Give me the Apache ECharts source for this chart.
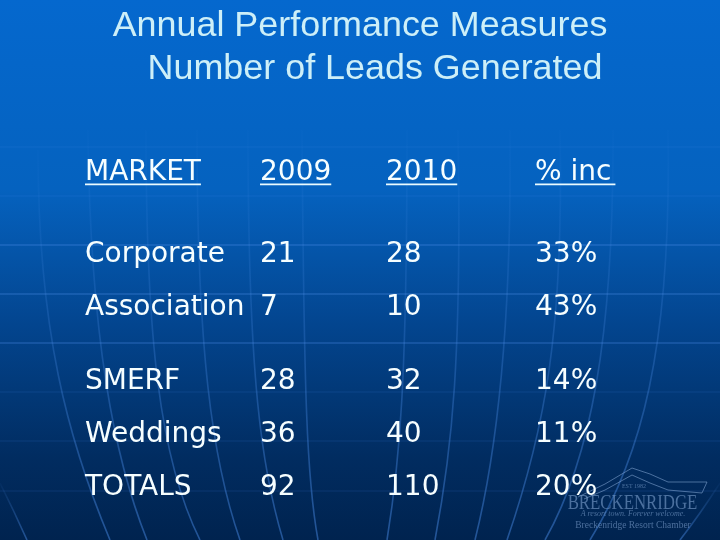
<!DOCTYPE html>
<html><head><meta charset="utf-8">
<style>html,body{margin:0;padding:0;background:#003a7c}#c{width:720px;height:540px}</style>
<script src="https://cdn.jsdelivr.net/npm/echarts@6/dist/echarts.min.js"></script></head>
<body><div id="c"></div>
<script>
const titleLines = ['Annual Performance Measures', 'Number of Leads Generated'];
const headers = ['MARKET', '2009', '2010', '% inc'];
const markets = ['Corporate', 'Association', 'SMERF', 'Weddings', 'TOTALS'];
const leads2009 = [21, 7, 28, 36, 92];
const leads2010 = [28, 10, 32, 40, 110];
const pctInc = ['33%', '43%', '14%', '11%', '20%'];
const columnX = [85, 260, 386, 535];
const rowY = [173, 255, 308, 382, 435, 488];
const brightGridY = [245, 294, 343];
const faintGridY = [147, 196, 392, 441, 491];
const meridians = [
  [[0,483],[10,503],[18,520],[27,540]],
  [[38,150],[38,330],[68,440],[110,540]],
  [[88,130],[90,340],[115,460],[147,540]],
  [[146,130],[146,340],[160,460],[200,540]],
  [[197,130],[197,350],[212,460],[240,540]],
  [[248,130],[248,380],[262,470],[283,540]],
  [[302,130],[304,400],[307,480],[318,540]],
  [[407,130],[407,380],[400,460],[387,540]],
  [[458,130],[462,360],[452,450],[435,540]],
  [[510,130],[512,340],[495,460],[475,540]],
  [[560,130],[564,330],[545,430],[507,540]],
  [[613,130],[614,340],[590,460],[545,540]],
  [[668,130],[672,350],[640,460],[590,540]],
  [[720,483],[706,505],[694,522],[680,540]]
];

const rows = [headers].concat(markets.map((m, i) => [m, leads2009[i], leads2010[i], pctInc[i]]));
const cells = [];
rows.forEach((r, ri) => r.forEach((v, ci) => cells.push({
  value: [columnX[ci], rowY[ri]], text: String(v)
})));

const FONT_SIZE = 28;
const measure = document.createElement('canvas').getContext('2d');
measure.font = FONT_SIZE + 'px "DejaVu Sans"';

const deco = [];
const hline = (y, a) => deco.push({type:'line', silent:true, shape:{x1:0,y1:y,x2:720,y2:y},
  style:{stroke:'rgba(80,145,235,'+a+')', lineWidth:1}});
brightGridY.forEach(y => hline(y, 0.5));
faintGridY.forEach(y => hline(y, 0.16));
meridians.forEach(m => deco.push({type:'bezierCurve', silent:true,
  shape:{x1:m[0][0],y1:m[0][1],cpx1:m[1][0],cpy1:m[1][1],cpx2:m[2][0],cpy2:m[2][1],x2:m[3][0],y2:m[3][1]},
  style:{stroke:{type:'linear',x:0,y:0,x2:0,y2:1,colorStops:[{offset:0,color:'rgba(80,145,235,0.02)'},{offset:0.4,color:'rgba(80,145,235,0.2)'},{offset:1,color:'rgba(70,135,225,0.5)'}]}, fill:'none', lineWidth:1.6}}));

// faint chamber logo
const logoCol = 'rgba(125,160,205,0.6)';
deco.push({type:'polyline', silent:true, shape:{points:[[578,497],[605,484],[632,468],[650,474],[668,482],[707,482],[702,493],[668,490],[650,483],[632,475],[605,490],[584,499]]}, style:{stroke:logoCol, fill:'none', lineWidth:1}});
deco.push({type:'text', silent:true, x:632.5, y:503, scaleX:0.8, style:{x:0,y:0,text:'BRECKENRIDGE',align:'center',verticalAlign:'middle',font:'21px "Liberation Serif"',fill:logoCol}});
deco.push({type:'text', silent:true, style:{x:634,y:486,text:'EST 1982',align:'center',verticalAlign:'middle',font:'6px "Liberation Serif"',fill:logoCol}});
deco.push({type:'text', silent:true, style:{x:633,y:514,text:'A resort town. Forever welcome.',align:'center',verticalAlign:'middle',font:'italic 8px "Liberation Serif"',fill:logoCol}});
deco.push({type:'text', silent:true, style:{x:633,y:525,text:'Breckenridge Resort Chamber',align:'center',verticalAlign:'middle',font:'9.5px "Liberation Serif"',fill:logoCol}});

titleLines.forEach((t, i) => deco.push({type:'text', silent:true, z:5,
  style:{x:[360,375][i], y:[26,69][i], text:t, align:'center', verticalAlign:'middle',
    font:'35.9px "Liberation Sans"', fill:'#cdeff8'}}));

// header underlines follow the text width
headers.forEach((h, i) => deco.push({type:'rect', silent:true, z:5,
  shape:{x:columnX[i], y:183.5, width:measure.measureText(h).width + (i === 3 ? 4 : 0), height:1.8},
  style:{fill:'#eafbff'}}));

const chart = echarts.init(document.getElementById('c'), null, {renderer:'canvas'});
chart.setOption({
  animation:false,
  backgroundColor:{type:'linear',x:0,y:0,x2:0,y2:1,colorStops:[
    {offset:0,color:'#0568ce'},{offset:0.35,color:'#0562bf'},{offset:0.6,color:'#03458f'},{offset:0.85,color:'#012c60'},{offset:1,color:'#00234f'}]},
  grid:{left:0,right:0,top:0,bottom:0},
  xAxis:{type:'value',min:0,max:720,show:false},
  yAxis:{type:'value',min:0,max:540,inverse:true,show:false},
  graphic:{elements:deco},
  series:[{
    type:'scatter', symbolSize:0, silent:true, z:10,
    itemStyle:{opacity:1},
    data:cells.map(c => ({
      value:c.value,
      label:{show:true, position:'right', distance:0, formatter:c.text, color:'#f6feff',
        opacity:1, fontFamily:'DejaVu Sans', fontSize:FONT_SIZE}
    }))
  }]
});
</script></body></html>
